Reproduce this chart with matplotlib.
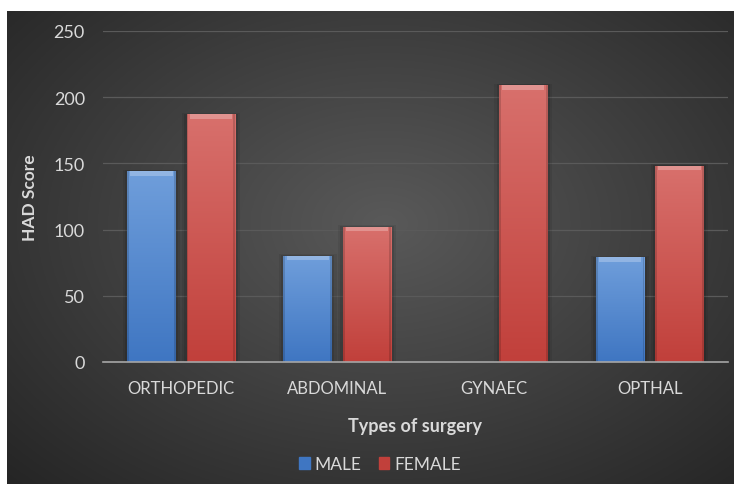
import numpy as np
import matplotlib.pyplot as plt
from matplotlib.colors import to_rgb
from matplotlib.patches import Rectangle

categories = ["ORTHOPEDIC", "ABDOMINAL", "GYNAEC", "OPTHAL"]
male = [144, 80, 0, 79]
female = [187, 102, 209, 148]
y_ticks = [0, 50, 100, 150, 200, 250]

TEXT = "#d9d9d9"
BLUE_TOP, BLUE_BOT = "#6f9edb", "#3f76c2"
RED_TOP, RED_BOT = "#d8706c", "#c1403b"

plt.rcParams["font.family"] = ["Lato", "DejaVu Sans"]

fig = plt.figure(figsize=(7.34, 4.85), dpi=100, facecolor="white")

# dark radial background panel
bg = fig.add_axes([7 / 734, 0, 727 / 734, 473 / 485])
yy, xx = np.mgrid[0:1:300j, 0:1:450j]
r = np.sqrt(((xx - 0.52) / 0.75) ** 2 + ((yy - 0.55) / 0.8) ** 2)
r = np.clip(r, 0, 1)
shade = 0.35 - 0.21 * r
bg.imshow(np.dstack([shade] * 3), aspect="auto", extent=[0, 1, 0, 1], origin="lower")
bg.set_axis_off()

ax = fig.add_axes([103 / 734, 1 - 363 / 485, 625 / 734, (363 - 32) / 485])
ax.patch.set_alpha(0)

x = np.arange(len(categories))
width = 0.31
off = 0.19


def gradient_bars(xs, vals, top, bot):
    bars = ax.bar(xs, vals, width, color="none", edgecolor="none", zorder=3)
    grad = np.linspace(0, 1, 100).reshape(-1, 1)
    c1 = np.array(to_rgb(top))
    c2 = np.array(to_rgb(bot))
    img = (c2 + (c1 - c2) * grad).reshape(100, 1, 3)
    for b in bars:
        h = b.get_height()
        if h <= 0:
            continue
        x0 = b.get_x()
        w = b.get_width()
        # soft shadow around bar
        for k, a in [(0.03, 0.07), (0.016, 0.10)]:
            ax.add_patch(Rectangle((x0 - k, 0), w + 2 * k, h + k * 40, color="black",
                                   alpha=a, lw=0, zorder=2))
        im = ax.imshow(img, extent=[x0, x0 + w, 0, h], aspect="auto", origin="lower", zorder=3)
        im.set_clip_path(b)
        # bevel highlight on top edge
        ax.add_patch(Rectangle((x0 + 0.02, h - 3.2), w - 0.04, 3.2,
                               color="white", alpha=0.25, lw=0, zorder=4))
        ax.add_patch(Rectangle((x0, 0), 0.012, h, color="black", alpha=0.15, lw=0, zorder=4))
        ax.add_patch(Rectangle((x0 + w - 0.012, 0), 0.012, h, color="black", alpha=0.15,
                               lw=0, zorder=4))
    return bars


gradient_bars(x - off, male, BLUE_TOP, BLUE_BOT)
gradient_bars(x + off, female, RED_TOP, RED_BOT)

ax.set_xlim(-0.5, len(categories) - 0.5)
ax.set_ylim(0, 250)
ax.set_yticks(y_ticks)
ax.set_xticks(x)
ax.set_xticklabels(categories)
ax.tick_params(axis="both", length=0, colors=TEXT, labelsize=12)
ax.tick_params(axis="y", pad=13, labelsize=13)
ax.tick_params(axis="x", pad=13)
ax.yaxis.grid(True, color="#5a5a5a", lw=0.9, zorder=0)
ax.set_axisbelow(True)
for s in ["top", "right", "left"]:
    ax.spines[s].set_visible(False)
ax.spines["bottom"].set_color("#a6a6a6")
ax.spines["bottom"].set_linewidth(1.2)
ax.spines["bottom"].set_zorder(5)

ax.set_ylabel("HAD Score", color=TEXT, fontsize=12.5, fontweight="bold")
ax.yaxis.set_label_coords(-0.104, 0.5)
ax.set_xlabel("Types of surgery", color=TEXT, fontsize=13, fontweight="bold")
ax.xaxis.set_label_coords(0.5, -0.166)

handles = [Rectangle((0, 0), 1, 1, color=BLUE_BOT), Rectangle((0, 0), 1, 1, color=RED_BOT)]
leg = fig.legend(handles, ["MALE", "FEMALE"], loc="center", bbox_to_anchor=(0.518, 0.041),
                 ncol=2, frameon=False, fontsize=12.5, handlelength=0.6, handleheight=0.6,
                 handletextpad=0.3, columnspacing=1.0, labelcolor=TEXT)

fig.savefig("out.png", dpi=100, facecolor="white")
